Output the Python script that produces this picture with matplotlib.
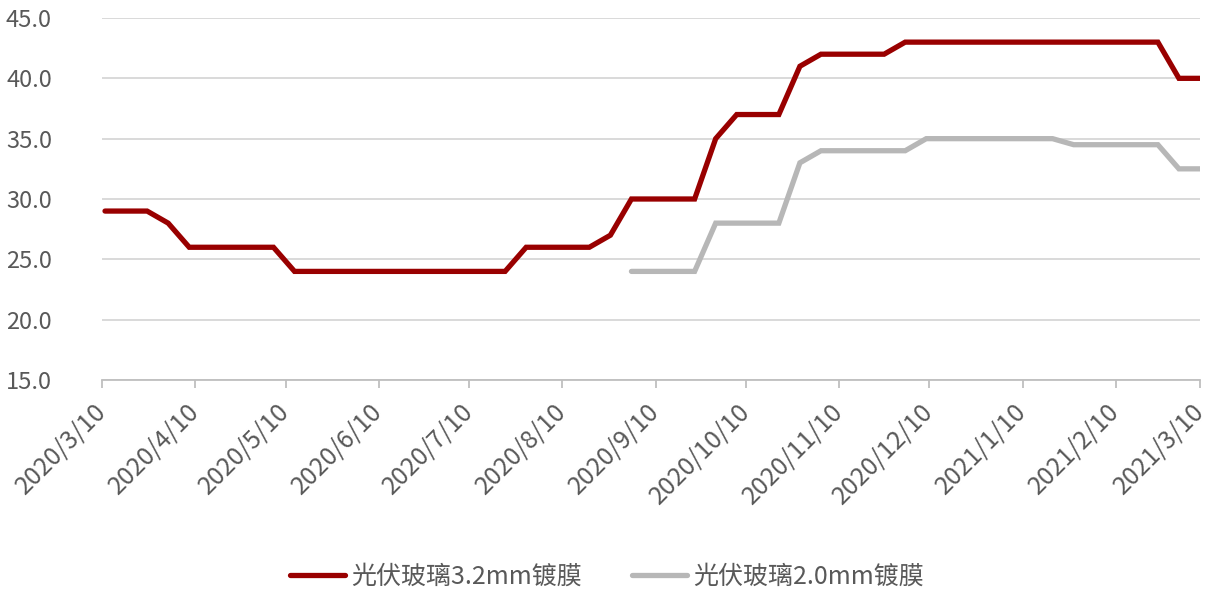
import numpy as np
import pandas as pd
import matplotlib
matplotlib.use("Agg")
import matplotlib.pyplot as plt

plt.rcParams['font.family'] = ['Noto Sans CJK SC', 'DejaVu Sans']

# Weekly price observations (yuan / m2)
dates = pd.date_range("2020-03-11", "2021-03-10", freq="7D")

glass_32mm = [29, 29, 29, 28, 26, 26, 26, 26, 26, 24,
              24, 24, 24, 24, 24, 24, 24, 24, 24, 24,
              26, 26, 26, 26, 27, 30, 30, 30, 30, 35,
              37, 37, 37, 41, 42, 42, 42, 42, 43, 43,
              43, 43, 43, 43, 43, 43, 43, 43, 43, 43,
              43, 40, 40]

glass_20mm = [np.nan] * 25 + [
              24, 24, 24, 24, 28, 28, 28, 28, 33, 34,
              34, 34, 34, 34, 35, 35, 35, 35, 35, 35,
              35, 34.5, 34.5, 34.5, 34.5, 34.5, 32.5, 32.5]

series_names = ["光伏玻璃3.2mm镀膜", "光伏玻璃2.0mm镀膜"]
series_colors = ["#990000", "#b7b7b7"]

tick_labels = ["2020/3/10", "2020/4/10", "2020/5/10", "2020/6/10", "2020/7/10",
               "2020/8/10", "2020/9/10", "2020/10/10", "2020/11/10", "2020/12/10",
               "2021/1/10", "2021/2/10", "2021/3/10"]
tick_dates = pd.to_datetime(tick_labels, format="%Y/%m/%d")
y_ticks = [15, 20, 25, 30, 35, 40, 45]

fig = plt.figure(figsize=(12.1, 5.9), dpi=100)
ax = fig.add_axes([102 / 1210, 1 - 380 / 590, 1098 / 1210, 362 / 590])

for vals, name, col in zip([glass_32mm, glass_20mm], series_names, series_colors):
    ax.plot(dates, vals, color=col, lw=3.8, label=name,
            solid_capstyle='round', solid_joinstyle='miter', zorder=3)

ax.set_xlim(tick_dates[0], tick_dates[-1])
ax.set_ylim(15, 45)
ax.set_yticks(y_ticks)
ax.set_yticklabels([f"{v:.1f}" for v in y_ticks])
ax.set_xticks(tick_dates)
ax.set_xticklabels(tick_labels, rotation=45, ha='right', va='center',
                   rotation_mode='anchor')

ax.grid(axis='y', color='#d9d9d9', lw=1.4, zorder=0)
ax.set_axisbelow(True)
for side in ['top', 'right', 'left']:
    ax.spines[side].set_visible(False)
ax.spines['bottom'].set_color('#bfbfbf')
ax.spines['bottom'].set_linewidth(1.3)

ax.tick_params(axis='y', length=0, pad=36, labelsize=17, labelcolor='#595959')
ax.tick_params(axis='x', direction='out', length=6, width=1.3, color='#bfbfbf',
               pad=14, labelsize=18, labelcolor='#595959')

fig.legend(loc='center', bbox_to_anchor=(607 / 1210, 1 - 577 / 590), ncol=2,
           frameon=False, fontsize=18, handlelength=2.2, columnspacing=2.0,
           handletextpad=0.25, labelcolor='#595959')

fig.savefig("out.png", dpi=100)
